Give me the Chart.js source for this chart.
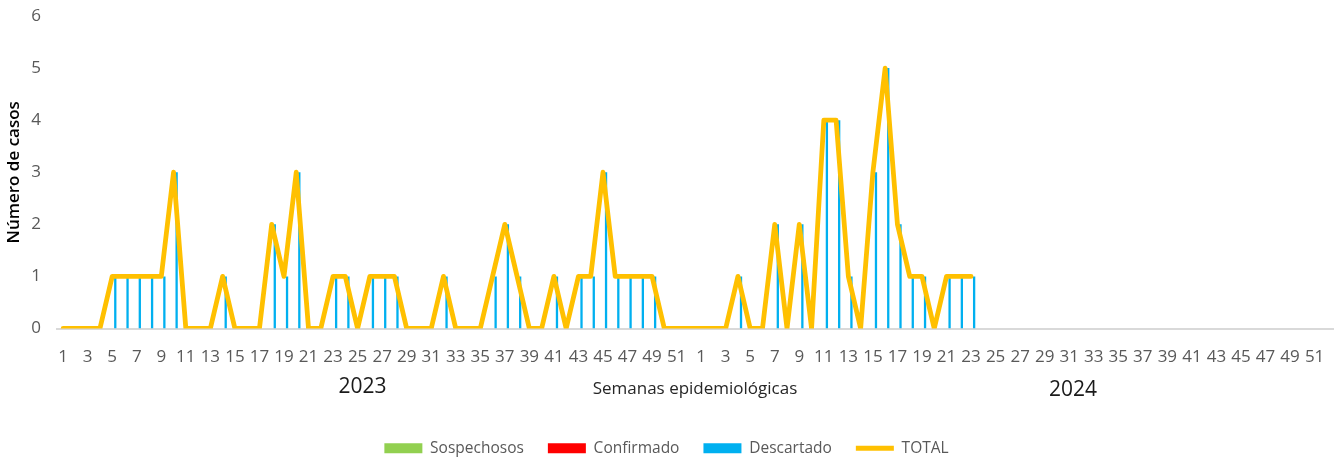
<!DOCTYPE html>
<html>
<head>
<meta charset="utf-8">
<script src="https://cdn.jsdelivr.net/npm/chart.js@4/dist/chart.umd.min.js"></script>
<style>
html, body { margin: 0; padding: 0; background: #fff; }
</style>
</head>
<body>
<canvas id="casosChart" width="1341" height="459"></canvas>
<script>
// semanas epidemiologicas 2023 y 2024
var weeks2023 = [];
var weeks2024 = [];
for (var w = 1; w <= 52; w++) { weeks2023.push(String(w)); weeks2024.push(String(w)); }
var years = ['2023', '2024'];

// casos por semana
var sospechosos2023 = [0,0,0,0,0,0,0,0,0,0, 0,0,0,0,0,0,0,0,0,0, 0,0,0,0,0,0,0,0,0,0, 0,0,0,0,0,0,0,0,0,0, 0,0,0,0,0,0,0,0,0,0, 0,0];
var sospechosos2024 = [0,0,0,0,0,0,0,0,0,0, 0,0,0,0,0,0,0,0,0,0, 0,0,0];
var confirmado2023 = [0,0,0,0,0,0,0,0,0,0, 0,0,0,0,0,0,0,0,0,0, 0,0,0,0,0,0,0,0,0,0, 0,0,0,0,0,0,0,0,0,0, 0,0,0,0,0,0,0,0,0,0, 0,0];
var confirmado2024 = [0,0,0,0,0,0,0,0,0,0, 0,0,0,0,0,0,0,0,0,0, 0,0,0];
var descartado2023 = [0,0,0,0,1,1,1,1,1,3, 0,0,0,1,0,0,0,2,1,3, 0,0,1,1,0,1,1,1,0,0, 0,1,0,0,0,1,2,1,0,0, 1,0,1,1,3,1,1,1,1,0, 0,0];
var descartado2024 = [0,0,0,1,0,0,2,0,2,0, 4,4,1,0,3,5,2,1,1,0, 1,1,1];
var total2023 = [0,0,0,0,1,1,1,1,1,3, 0,0,0,1,0,0,0,2,1,3, 0,0,1,1,0,1,1,1,0,0, 0,1,0,0,0,1,2,1,0,0, 1,0,1,1,3,1,1,1,1,0, 0,0];
var total2024 = [0,0,0,1,0,0,2,0,2,0, 4,4,1,0,3,5,2,1,1,0, 1,1,1];

var labels = weeks2023.concat(weeks2024);
function serie(a, b) {
    var out = a.concat(b);
    while (out.length < labels.length) out.push(null);
    return out;
}

var tickFont = { family: '"Open Sans"', size: 17 };

// año debajo de cada bloque de semanas
var yearLabels = {
    id: 'yearLabels',
    afterDraw: function (chart) {
        var xs = chart.scales.x;
        var ctx = chart.ctx;
        var base = chart.chartArea.bottom;
        ctx.save();
        ctx.font = '21px "Open Sans"';
        ctx.fillStyle = '#1a1a1a';
        ctx.textAlign = 'center';
        ctx.textBaseline = 'middle';
        ctx.fillText(years[0], xs.getPixelForValue(24.4), base + 59);
        ctx.fillText(years[1], xs.getPixelForValue(82.3), base + 62);
        ctx.restore();
    }
};

var ctx = document.getElementById('casosChart').getContext('2d');
new Chart(ctx, {
    type: 'bar',
    data: {
        labels: labels,
        datasets: [
            {
                label: 'Sospechosos',
                data: serie(sospechosos2023, sospechosos2024),
                backgroundColor: '#92D050',
                borderWidth: 0,
                pointStyle: 'rect',
                categoryPercentage: 0.75,
                barPercentage: 0.75,
                order: 1
            },
            {
                label: 'Confirmado',
                data: serie(confirmado2023, confirmado2024),
                backgroundColor: '#FF0000',
                borderWidth: 0,
                pointStyle: 'rect',
                categoryPercentage: 0.75,
                barPercentage: 0.75,
                order: 1
            },
            {
                label: 'Descartado',
                data: serie(descartado2023, descartado2024),
                backgroundColor: '#00B0F0',
                borderWidth: 0,
                pointStyle: 'rect',
                categoryPercentage: 0.75,
                barPercentage: 0.75,
                order: 1
            },
            {
                type: 'line',
                label: 'TOTAL',
                data: serie(total2023, total2024),
                borderColor: '#FFC000',
                backgroundColor: '#FFC000',
                borderWidth: 4.8,
                borderJoinStyle: 'round',
                borderCapStyle: 'round',
                pointRadius: 0,
                pointStyle: 'line',
                tension: 0,
                spanGaps: false,
                order: 0
            }
        ]
    },
    options: {
        responsive: false,
        animation: false,
        layout: {
            autoPadding: false,
            padding: { top: 16, right: 8, bottom: -7, left: 0 }
        },
        scales: {
            x: {
                grid: { display: false, drawTicks: false },
                border: { display: true, color: '#D9D9D9', width: 2 },
                ticks: {
                    autoSkip: false,
                    maxRotation: 0,
                    minRotation: 0,
                    padding: 18,
                    color: '#595959',
                    font: tickFont,
                    callback: function (value, index) {
                        return index % 2 === 0 ? this.getLabelForValue(value) : '';
                    }
                },
                title: {
                    display: true,
                    text: 'Semanas epidemiológicas',
                    color: '#262626',
                    font: { family: '"Open Sans"', size: 17 },
                    padding: { top: 0, bottom: 17 }
                },
                afterFit: function (scale) {
                    scale.height = 88;
                    scale.paddingLeft = 0;
                    scale.paddingRight = 0;
                }
            },
            y: {
                min: 0,
                max: 6,
                grid: { display: false, drawTicks: false },
                border: { display: false },
                ticks: {
                    stepSize: 1,
                    padding: 16,
                    color: '#595959',
                    font: tickFont
                },
                title: {
                    display: true,
                    text: 'Número de casos',
                    color: '#000000',
                    font: { family: '"Open Sans"', size: 17, weight: '600' },
                    padding: { top: 4, bottom: 4 }
                },
                afterFit: function (scale) {
                    scale.width = 57;
                    scale.paddingTop = 0;
                    scale.paddingBottom = 0;
                }
            }
        },
        plugins: {
            legend: {
                position: 'bottom',
                labels: {
                    usePointStyle: true,
                    pointStyleWidth: 38,
                    boxHeight: 10,
                    padding: 24,
                    color: '#595959',
                    font: { family: '"Open Sans"', size: 15.5 },
                    sort: function (a, b) { return a.datasetIndex - b.datasetIndex; }
                }
            },
            tooltip: { enabled: false }
        }
    },
    plugins: [yearLabels]
});
</script>
</body>
</html>
